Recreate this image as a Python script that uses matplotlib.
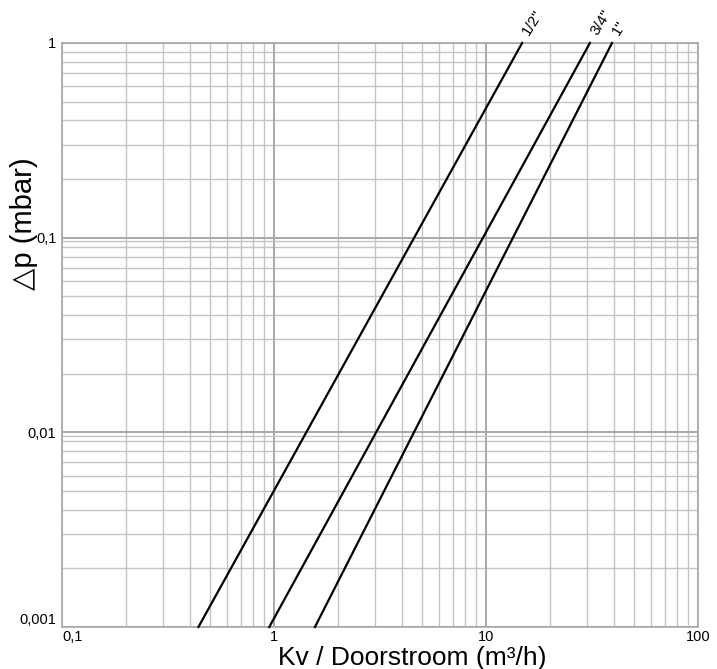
import matplotlib
matplotlib.use("Agg")
import matplotlib.pyplot as plt
import numpy as np

# ---- data ----
sizes = ['1/2"', '3/4"', '1"']
dp_ends = [0.001, 1.0]                 # mbar, bottom and top of each line
flow_at_low = [0.44, 0.95, 1.56]       # m3/h at dp = 0.001
flow_at_high = [14.8, 30.9, 39.3]      # m3/h at dp = 1
x_ticks = [0.1, 1, 10, 100]
x_ticklabels = ['0,1', '1', '10', '100']
y_ticks = [0.001, 0.01, 0.1, 1]
y_ticklabels = ['0,001', '0,01', '0,1', '1']

plt.rcParams['font.family'] = ['Liberation Sans', 'DejaVu Sans']

W, H = 717, 669
fig = plt.figure(figsize=(W / 100, H / 100), dpi=100)
ax = fig.add_axes([62 / W, 1 - 627 / H, (698 - 62) / W, (627 - 43) / H])
ax.set_xscale('log')
ax.set_yscale('log')
ax.set_xlim(0.1, 100)
ax.set_ylim(0.001, 1)

minor_c = '#c4c4c4'
major_c = '#a8a8a8'
# minor grid
for d in [0.1, 1, 10]:
    for k in range(2, 10):
        ax.axvline(d * k, color=minor_c, lw=1.0, zorder=1)
for d in [0.001, 0.01, 0.1]:
    for k in range(2, 10):
        ax.axhline(d * k, color=minor_c, lw=1.0, zorder=1)
# major grid
for v in x_ticks:
    ax.axvline(v, color=major_c, lw=1.4, zorder=1)
for v in y_ticks:
    ax.axhline(v, color=major_c, lw=1.4, zorder=1)
# doubled decade lines seen in the reference
for v in [0.01, 0.1]:
    ax.axhline(v * 0.96, color=minor_c, lw=1.0, zorder=1)

for s in ax.spines.values():
    s.set_color(major_c)
    s.set_linewidth(1.2)

ax.set_xticks(x_ticks)
ax.set_xticklabels(x_ticklabels, fontsize=10.5)
ax.set_yticks(y_ticks)
ax.set_yticklabels(y_ticklabels, fontsize=10.5)
ax.xaxis.set_minor_locator(matplotlib.ticker.NullLocator())
ax.yaxis.set_minor_locator(matplotlib.ticker.NullLocator())
ax.tick_params(length=0, pad=4)
ax.tick_params(axis='x', pad=2.5)
xl = ax.get_xticklabels()
xl[0].set_horizontalalignment('left')
yl = ax.get_yticklabels()
yl[0].set_verticalalignment('bottom')

for name, f0, f1 in zip(sizes, flow_at_low, flow_at_high):
    ax.plot([f0, f1], dp_ends, color='black', lw=1.6, zorder=3, clip_on=False)
    ax.annotate(name, xy=(f1, dp_ends[1]), xytext=(7, 4), textcoords='offset points',
                rotation=58, rotation_mode='anchor', ha='left', va='bottom',
                fontsize=11, annotation_clip=False)

fig.text(412 / W, 1 - 664.5 / H, 'Kv / Doorstroom (m\u00b3/h)', fontsize=19,
         ha='center', va='baseline')
fig.text(24 / W, 1 - 224 / H, '\u25b3p (mbar)', fontsize=21, rotation=90,
         ha='center', va='center')

fig.savefig('out.png', dpi=100, facecolor='white')
